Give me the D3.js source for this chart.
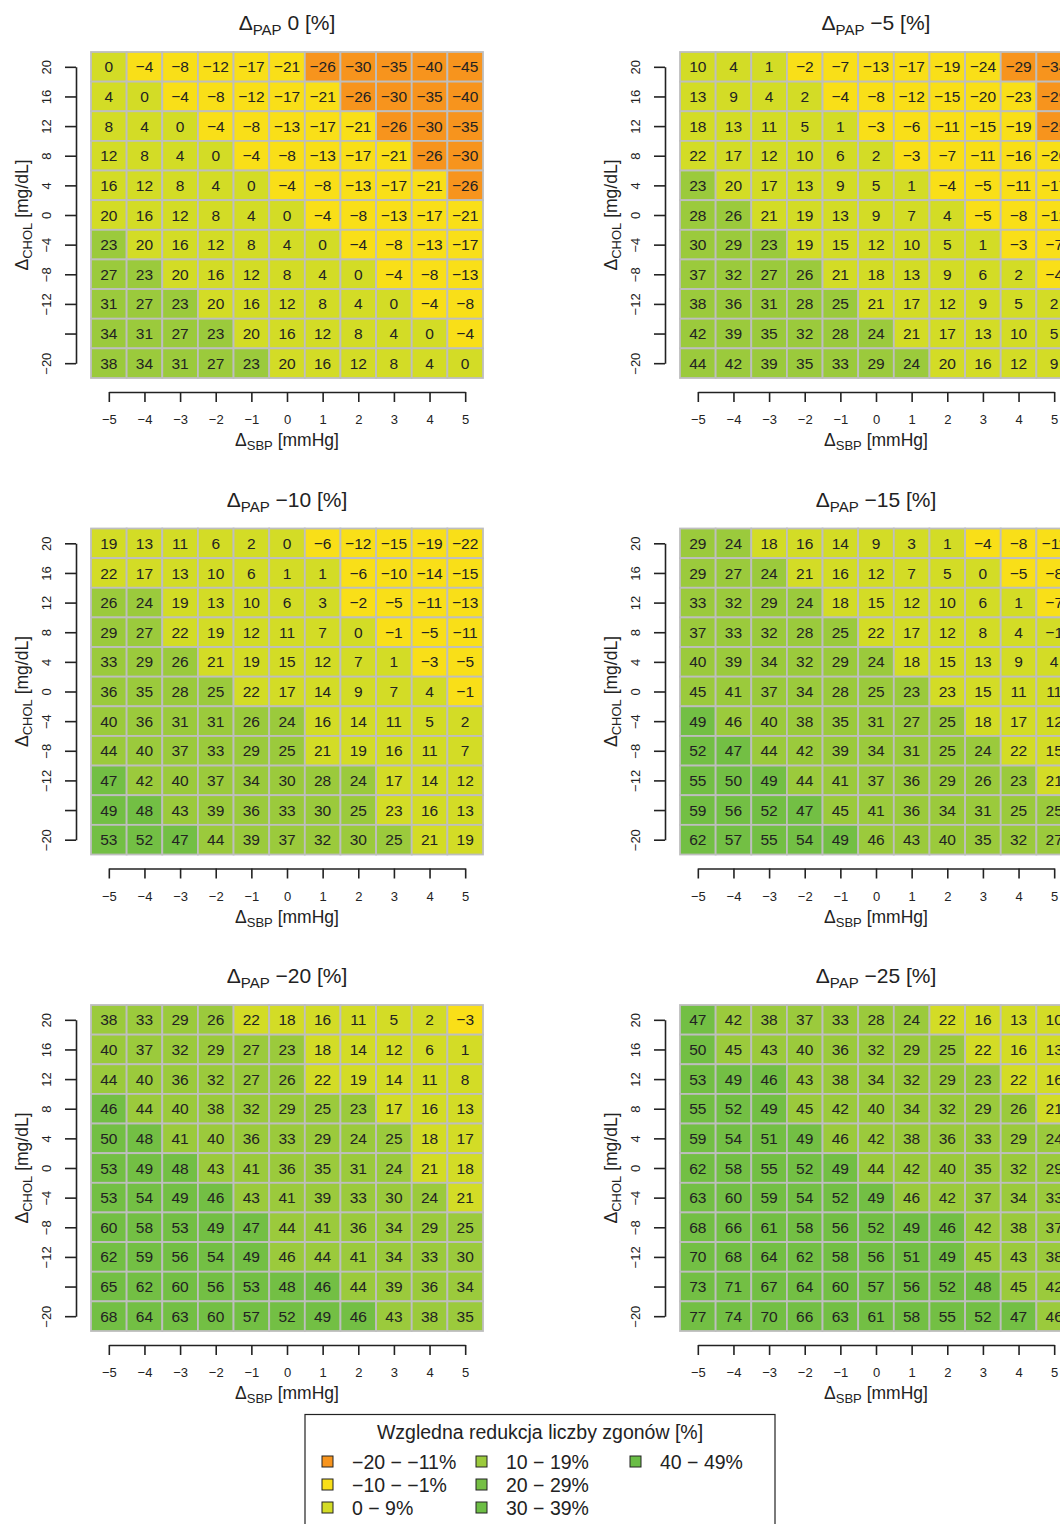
<!DOCTYPE html>
<html>
<head>
<meta charset="utf-8">
<script src="https://cdn.jsdelivr.net/npm/d3@7"></script>
<style>
body { margin: 0; background: #fff; }
text { font-family: "Liberation Sans", Arial, Helvetica, sans-serif; fill: #222; }
</style>
</head>
<body>
<svg id="wykres" width="1060" height="1524"></svg>
<script>
// osie: zmiana SBP (kolumny) i zmiana cholesterolu (wiersze, od gory)
const sbp = [-5, -4, -3, -2, -1, 0, 1, 2, 3, 4, 5];
const chol = [20, 16, 12, 8, 4, 0, -4, -8, -12, -16, -20];
const pap = [0, -5, -10, -15, -20, -25];

// wzgledna redukcja zgonow [%], wiersz = chol, kolumna = sbp
const red0 = [
  [0, -4, -8, -12, -17, -21, -26, -30, -35, -40, -45],
  [4, 0, -4, -8, -12, -17, -21, -26, -30, -35, -40],
  [8, 4, 0, -4, -8, -13, -17, -21, -26, -30, -35],
  [12, 8, 4, 0, -4, -8, -13, -17, -21, -26, -30],
  [16, 12, 8, 4, 0, -4, -8, -13, -17, -21, -26],
  [20, 16, 12, 8, 4, 0, -4, -8, -13, -17, -21],
  [23, 20, 16, 12, 8, 4, 0, -4, -8, -13, -17],
  [27, 23, 20, 16, 12, 8, 4, 0, -4, -8, -13],
  [31, 27, 23, 20, 16, 12, 8, 4, 0, -4, -8],
  [34, 31, 27, 23, 20, 16, 12, 8, 4, 0, -4],
  [38, 34, 31, 27, 23, 20, 16, 12, 8, 4, 0]
];
const red5 = [
  [10, 4, 1, -2, -7, -13, -17, -19, -24, -29, -34],
  [13, 9, 4, 2, -4, -8, -12, -15, -20, -23, -29],
  [18, 13, 11, 5, 1, -3, -6, -11, -15, -19, -25],
  [22, 17, 12, 10, 6, 2, -3, -7, -11, -16, -20],
  [23, 20, 17, 13, 9, 5, 1, -4, -5, -11, -17],
  [28, 26, 21, 19, 13, 9, 7, 4, -5, -8, -12],
  [30, 29, 23, 19, 15, 12, 10, 5, 1, -3, -7],
  [37, 32, 27, 26, 21, 18, 13, 9, 6, 2, -4],
  [38, 36, 31, 28, 25, 21, 17, 12, 9, 5, 2],
  [42, 39, 35, 32, 28, 24, 21, 17, 13, 10, 5],
  [44, 42, 39, 35, 33, 29, 24, 20, 16, 12, 9]
];
const red10 = [
  [19, 13, 11, 6, 2, 0, -6, -12, -15, -19, -22],
  [22, 17, 13, 10, 6, 1, 1, -6, -10, -14, -15],
  [26, 24, 19, 13, 10, 6, 3, -2, -5, -11, -13],
  [29, 27, 22, 19, 12, 11, 7, 0, -1, -5, -11],
  [33, 29, 26, 21, 19, 15, 12, 7, 1, -3, -5],
  [36, 35, 28, 25, 22, 17, 14, 9, 7, 4, -1],
  [40, 36, 31, 31, 26, 24, 16, 14, 11, 5, 2],
  [44, 40, 37, 33, 29, 25, 21, 19, 16, 11, 7],
  [47, 42, 40, 37, 34, 30, 28, 24, 17, 14, 12],
  [49, 48, 43, 39, 36, 33, 30, 25, 23, 16, 13],
  [53, 52, 47, 44, 39, 37, 32, 30, 25, 21, 19]
];
const red15 = [
  [29, 24, 18, 16, 14, 9, 3, 1, -4, -8, -11],
  [29, 27, 24, 21, 16, 12, 7, 5, 0, -5, -8],
  [33, 32, 29, 24, 18, 15, 12, 10, 6, 1, -7],
  [37, 33, 32, 28, 25, 22, 17, 12, 8, 4, -1],
  [40, 39, 34, 32, 29, 24, 18, 15, 13, 9, 4],
  [45, 41, 37, 34, 28, 25, 23, 23, 15, 11, 11],
  [49, 46, 40, 38, 35, 31, 27, 25, 18, 17, 12],
  [52, 47, 44, 42, 39, 34, 31, 25, 24, 22, 15],
  [55, 50, 49, 44, 41, 37, 36, 29, 26, 23, 21],
  [59, 56, 52, 47, 45, 41, 36, 34, 31, 25, 25],
  [62, 57, 55, 54, 49, 46, 43, 40, 35, 32, 27]
];
const red20 = [
  [38, 33, 29, 26, 22, 18, 16, 11, 5, 2, -3],
  [40, 37, 32, 29, 27, 23, 18, 14, 12, 6, 1],
  [44, 40, 36, 32, 27, 26, 22, 19, 14, 11, 8],
  [46, 44, 40, 38, 32, 29, 25, 23, 17, 16, 13],
  [50, 48, 41, 40, 36, 33, 29, 24, 25, 18, 17],
  [53, 49, 48, 43, 41, 36, 35, 31, 24, 21, 18],
  [53, 54, 49, 46, 43, 41, 39, 33, 30, 24, 21],
  [60, 58, 53, 49, 47, 44, 41, 36, 34, 29, 25],
  [62, 59, 56, 54, 49, 46, 44, 41, 34, 33, 30],
  [65, 62, 60, 56, 53, 48, 46, 44, 39, 36, 34],
  [68, 64, 63, 60, 57, 52, 49, 46, 43, 38, 35]
];
const red25 = [
  [47, 42, 38, 37, 33, 28, 24, 22, 16, 13, 10],
  [50, 45, 43, 40, 36, 32, 29, 25, 22, 16, 13],
  [53, 49, 46, 43, 38, 34, 32, 29, 23, 22, 16],
  [55, 52, 49, 45, 42, 40, 34, 32, 29, 26, 21],
  [59, 54, 51, 49, 46, 42, 38, 36, 33, 29, 24],
  [62, 58, 55, 52, 49, 44, 42, 40, 35, 32, 29],
  [63, 60, 59, 54, 52, 49, 46, 42, 37, 34, 33],
  [68, 66, 61, 58, 56, 52, 49, 46, 42, 38, 37],
  [70, 68, 64, 62, 58, 56, 51, 49, 45, 43, 38],
  [73, 71, 67, 64, 60, 57, 56, 52, 48, 45, 42],
  [77, 74, 70, 66, 63, 61, 58, 55, 52, 47, 46]
];

// klasa koloru kazdej komorki
// O = pomaranczowy, Y = zolty, L = zoltozielony, G = jasnozielony, D = zielony
const kl0 = ["LYYYYYOOOOO", "LLYYYYYOOOO", "LLLYYYYYOOO", "LLLLYYYYYOO", "LLLLLYYYYYO", "LLLLLLYYYYY",
  "GLLLLLLYYYY", "GGLLLLLLYYY", "GGGLLLLLLYY", "GGGGLLLLLLY", "GGGGGLLLLLL"];
const kl5 = ["LLLYYYYYYOO", "LLLLYYYYYYO", "LLLLLYYYYYO", "LLLLLLYYYYY", "GLLLLLLYYYY", "GGLLLLLLYYY",
  "GGGLLLLLLYY", "GGGGLLLLLLY", "GGGGGLLLLLL", "GGGGGGLLLLL", "GGGGGGGLLLL"];
const kl10 = ["LLLLLLYYYYY", "LLLLLLLYYYY", "GGLLLLLYYYY", "GGLLLLLLYYY", "GGGLLLLLLYY", "GGGGLLLLLLY",
  "GGGGGGLLLLL", "GGGGGGLLLLL", "DGGGGGGGLLL", "DDGGGGGGLLL", "DDDGGGGGGLL"];
const kl15 = ["GGLLLLLLYYY", "GGGLLLLLLYY", "GGGGLLLLLLY", "GGGGGLLLLLL", "GGGGGGLLLLL", "GGGGGGGLLLL",
  "DGGGGGGGLLL", "DDGGGGGGGLL", "DDDGGGGGGGL", "DDDDGGGGGGG", "DDDDDGGGGGG"];
const kl20 = ["GGGGLLLLLLY", "GGGGGGLLLLL", "GGGGGGLLLLL", "DGGGGGGGLLL", "DDGGGGGGGLL", "DDDGGGGGGLL",
  "DDDDGGGGGGL", "DDDDDGGGGGG", "DDDDDGGGGGG", "DDDDDDDGGGG", "DDDDDDDDGGG"];
const kl25 = ["DGGGGGGLLLL", "DGGGGGGGLLL", "DDDGGGGGGLL", "DDDGGGGGGGL", "DDDDGGGGGGG", "DDDDDGGGGGG",
  "DDDDDDGGGGG", "DDDDDDDDGGG", "DDDDDDDDGGG", "DDDDDDDDDGG", "DDDDDDDDDDG"];

const wartosci = [red0, red5, red10, red15, red20, red25];
const klasy = [kl0, kl5, kl10, kl15, kl20, kl25];

const klasyKolorow = ["O", "Y", "L", "G", "D"];
const koloryKomorek = ["#f7941d", "#f9df18", "#d3dc26", "#9bca3c", "#73bf44"];

const legendaEtykiety = ["\u221220 \u2212 \u221211%", "\u221210 \u2212 \u22121%", "0 \u2212 9%",
  "10 \u2212 19%", "20 \u2212 29%", "30 \u2212 39%", "40 \u2212 49%"];
const legendaKolory = ["#f7941d", "#f9df18", "#d3dc26", "#9bca3c", "#75bf44", "#6dbe45", "#69bd45"];

const fmt = v => v < 0 ? "\u2212" + Math.abs(v) : String(v);

const svg = d3.select("#wykres");
const kolor = d3.scaleOrdinal().domain(klasyKolorow).range(koloryKomorek);

const x = d3.scaleBand().domain(sbp).range([91, 483]);
const y = d3.scaleBand().domain(chol).range([52, 378]);
const xl = d3.scaleLinear().domain([-5, 5]).range([x(-5) + x.bandwidth() / 2, x(5) + x.bandwidth() / 2]);
const yl = d3.scaleLinear().domain([20, -20]).range([y(20) + y.bandwidth() / 2, y(-20) + y.bandwidth() / 2]);

function rysujPanel(i) {
  const g = svg.append("g")
    .attr("transform", `translate(${(i % 2) * 589}, ${Math.floor(i / 2) * 476.5})`);

  const komorki = [];
  chol.forEach((c, r) => sbp.forEach((s, k) => {
    komorki.push({ s, c, v: wartosci[i][r][k], kl: klasy[i][r][k] });
  }));

  g.selectAll(".komorka")
    .data(komorki)
    .enter().append("rect")
    .attr("class", "komorka")
    .attr("x", d => x(d.s))
    .attr("y", d => y(d.c))
    .attr("width", x.bandwidth())
    .attr("height", y.bandwidth())
    .style("fill", d => kolor(d.kl))
    .style("stroke", "#bebebe")
    .style("stroke-width", "1.8px");

  g.selectAll(".wartosc")
    .data(komorki)
    .enter().append("text")
    .attr("class", "wartosc")
    .attr("x", d => x(d.s) + x.bandwidth() / 2)
    .attr("y", d => y(d.c) + y.bandwidth() / 2)
    .attr("dy", "0.36em")
    .attr("text-anchor", "middle")
    .style("font-size", "15.5px")
    .text(d => fmt(d.v));

  // os X
  const osX = g.append("g")
    .attr("transform", "translate(0, 392)")
    .call(d3.axisBottom(xl).tickValues(sbp).tickSize(10).tickSizeOuter(0).tickPadding(13).tickFormat(fmt));
  osX.selectAll("text").style("font-size", "13px").style("fill", "#222");

  // os Y, etykiety obrocone, -16 pominiete jak w R
  const osY = g.append("g")
    .attr("transform", "translate(76, 0)")
    .call(d3.axisLeft(yl).tickValues(chol).tickSize(11).tickSizeOuter(0)
      .tickFormat(d => d === -16 ? "" : fmt(d)));
  osY.selectAll("text")
    .attr("x", null)
    .attr("dy", null)
    .attr("text-anchor", "middle")
    .attr("transform", "translate(-25, 0) rotate(-90)")
    .style("font-size", "13px")
    .style("fill", "#222");

  [osX, osY].forEach(os => {
    os.selectAll("path, line").style("stroke", "#222").style("stroke-width", "1.6px");
  });

  // tytul panelu
  const tytul = g.append("text")
    .attr("x", 287).attr("y", 30)
    .attr("text-anchor", "middle")
    .style("font-size", "21px");
  tytul.append("tspan").text("\u0394");
  tytul.append("tspan").text("PAP").attr("dy", 5).style("font-size", "15px");
  tytul.append("tspan").text(" " + fmt(pap[i]) + " [%]").attr("dy", -5);

  // opis osi X
  const opisX = g.append("text")
    .attr("x", 287).attr("y", 446)
    .attr("text-anchor", "middle")
    .style("font-size", "17.5px");
  opisX.append("tspan").text("\u0394");
  opisX.append("tspan").text("SBP").attr("dy", 4).style("font-size", "13px");
  opisX.append("tspan").text(" [mmHg]").attr("dy", -4);

  // opis osi Y
  const opisY = g.append("text")
    .attr("transform", "translate(28, 215) rotate(-90)")
    .attr("text-anchor", "middle")
    .style("font-size", "17.5px");
  opisY.append("tspan").text("\u0394");
  opisY.append("tspan").text("CHOL").attr("dy", 4).style("font-size", "13px");
  opisY.append("tspan").text(" [mg/dL]").attr("dy", -4);
}

pap.forEach((p, i) => rysujPanel(i));

// legenda
const leg = svg.append("g");
leg.append("rect")
  .attr("x", 305).attr("y", 1414.5)
  .attr("width", 470).attr("height", 130)
  .style("fill", "none")
  .style("stroke", "#222")
  .style("stroke-width", "1.2px");
leg.append("text")
  .attr("x", 540).attr("y", 1439)
  .attr("text-anchor", "middle")
  .style("font-size", "19.5px")
  .text("Wzgledna redukcja liczby zgonów [%]");

const elem = leg.selectAll(".legend-item")
  .data(legendaEtykiety.map((e, i) => ({ e, kol: legendaKolory[i], i })))
  .enter().append("g")
  .attr("class", "legend-item")
  .attr("transform", d => `translate(${322 + Math.floor(d.i / 3) * 154}, ${1456 + (d.i % 3) * 23})`);

elem.append("rect")
  .attr("width", 11).attr("height", 11)
  .style("fill", d => d.kol)
  .style("stroke", "#222")
  .style("stroke-width", "1px");

elem.append("text")
  .attr("x", 30).attr("y", 12.5)
  .style("font-size", "19.5px")
  .text(d => d.e);
</script>
</body>
</html>
